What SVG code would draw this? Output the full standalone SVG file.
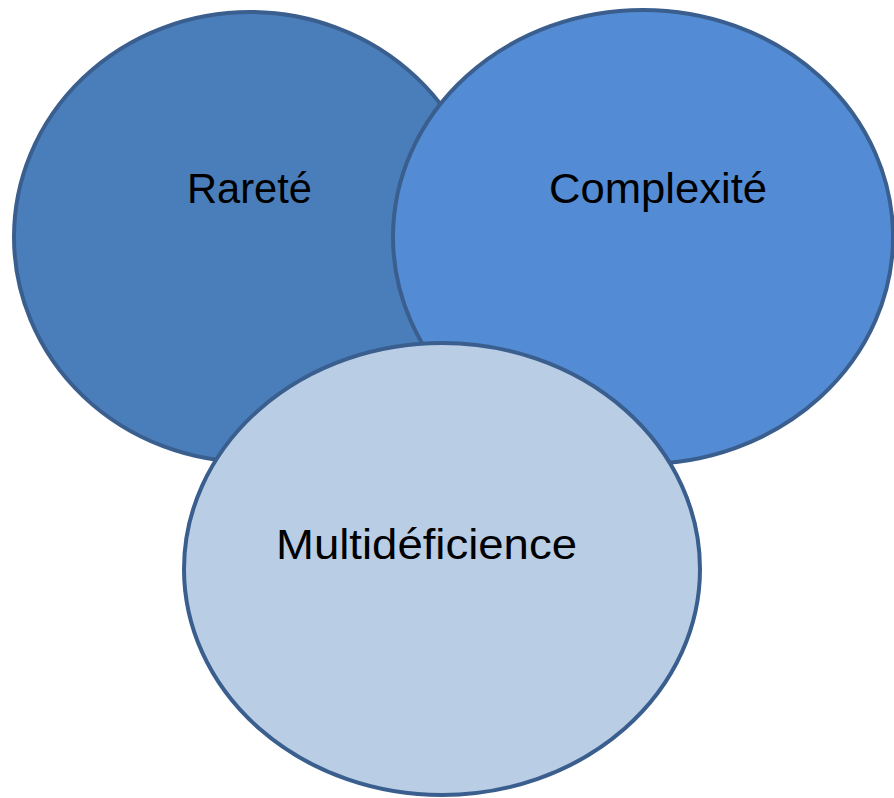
<svg xmlns="http://www.w3.org/2000/svg" width="894" height="798" viewBox="0 0 894 798">
<style>
.node ellipse{stroke:#3a5f8e;stroke-width:4}
.lbl{font-family:"Liberation Sans",Arial,sans-serif;font-size:42px;fill:#000}
</style>
<rect width="894" height="798" fill="#fff"/>
<g id="rarete" class="node">
<ellipse cx="250" cy="237" rx="236" ry="225" fill="#4a7ebb"/>
<text class="lbl" x="187" y="203" textLength="125" lengthAdjust="spacingAndGlyphs">Rareté</text>
</g>
<g id="complexite" class="node">
<ellipse cx="643" cy="237" rx="250" ry="227" fill="#538cd4"/>
<text class="lbl" x="549" y="203" textLength="218" lengthAdjust="spacingAndGlyphs">Complexité</text>
</g>
<g id="multideficience" class="node">
<ellipse cx="442" cy="569" rx="258" ry="226" fill="#b9cde5"/>
<text class="lbl" x="276" y="559" textLength="301" lengthAdjust="spacingAndGlyphs">Multidéficience</text>
</g>
<g id="connectors"></g>
</svg>
